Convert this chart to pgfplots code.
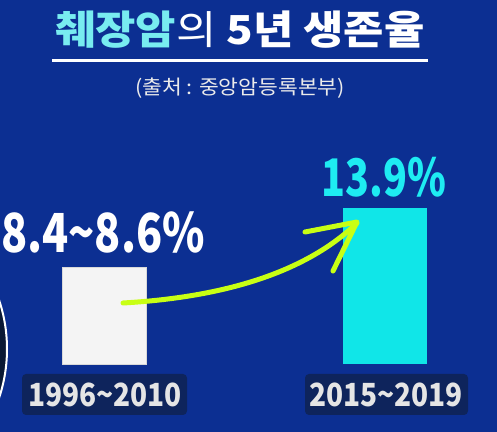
\documentclass[border=0pt]{standalone}
\usepackage{pgfplots}
\pgfplotsset{compat=1.18}
\usepackage{fontspec}
\newfontfamily\kr{Noto Sans CJK KR}
\definecolor{bg}{RGB}{12,47,146}
\definecolor{barwhite}{RGB}{244,244,244}
\definecolor{barcyan}{RGB}{16,230,232}
\definecolor{titlecyan}{RGB}{120,236,240}
\definecolor{labcyan}{RGB}{30,236,242}
\definecolor{tagbox}{RGB}{14,36,92}
\definecolor{lime}{RGB}{200,255,20}
\definecolor{disc}{RGB}{10,24,52}
\begin{document}
\begin{tikzpicture}
\useasboundingbox (0,0) rectangle (497bp,432bp);
\clip (0,0) rectangle (497bp,432bp);
\fill[bg] (0,0) rectangle (497bp,432bp);

\begin{axis}[
  at={(0,0)}, anchor=south west,
  width=497bp, height=432bp,
  scale only axis, hide axis,
  xmin=-0.3701, xmax=1.3986,
  ymin=-6.059, ymax=32.43,
]
% 1996~2010 (8.4~8.6%) and 2015~2019 (13.9%)
\addplot[ybar, bar width=0.299, bar shift=0, draw=black!15, fill=barwhite]
  coordinates {(0,8.6)};
\addplot[ybar, bar width=0.299, bar shift=0, draw=none, fill=barcyan]
  coordinates {(1,13.9)};
\end{axis}

% annotations, in pixels measured from the top left
\begin{scope}[yshift=432bp, x=1bp, y=-1bp]
  % title
  \node[anchor=base, inner sep=0] at (240,45)
    {\scalebox{1.1}[1]{\kr\fontsize{40}{44}\selectfont\bfseries
     \textcolor{titlecyan}{췌장암}\textcolor{white}{\mdseries 의} \textcolor{white}{5년 생존율}}};
  \draw[white, line width=3bp] (52,61) -- (428,61);
  \node[anchor=base, inner sep=0, text=white!92!black] at (240,95)
    {\scalebox{1.08}[1]{\kr\fontsize{20}{24}\selectfont (출처 : 중앙암등록본부)}};

  % value labels
  \node[anchor=base, inner sep=0, text=white] at (103,253)
    {\scalebox{0.8}[1]{\kr\fontsize{54}{58}\selectfont\bfseries 8.4\textasciitilde 8.6\%}};
  \node[anchor=base, inner sep=0, text=labcyan] at (384,197)
    {\scalebox{0.76}[1]{\kr\fontsize{52}{56}\selectfont\bfseries 13.9\%}};

  % category tags
  \fill[tagbox, rounded corners=4bp] (22,374) rectangle (187,415);
  \fill[tagbox, rounded corners=4bp] (305,374) rectangle (468,415);
  \node[anchor=base, inner sep=0, text=white!90!black] at (105,407)
    {\scalebox{0.88}[1]{\kr\fontsize{32}{36}\selectfont\bfseries 1996\textasciitilde 2010}};
  \node[anchor=base, inner sep=0, text=white!90!black] at (386,407)
    {\scalebox{0.88}[1]{\kr\fontsize{32}{36}\selectfont\bfseries 2015\textasciitilde 2019}};

  % arrow
  \draw[lime, line width=5bp, line cap=round, line join=round]
    (123,303) .. controls (210,298) and (300,278) .. (357,223);
  \draw[lime, line width=5bp, line cap=round, line join=round]
    (305,232) -- (357,222) -- (333,271);

  % partly visible disc at the left edge
  \draw[white, line width=2bp, fill=disc] (-147,349) circle (154);
\end{scope}
\end{tikzpicture}
\end{document}
